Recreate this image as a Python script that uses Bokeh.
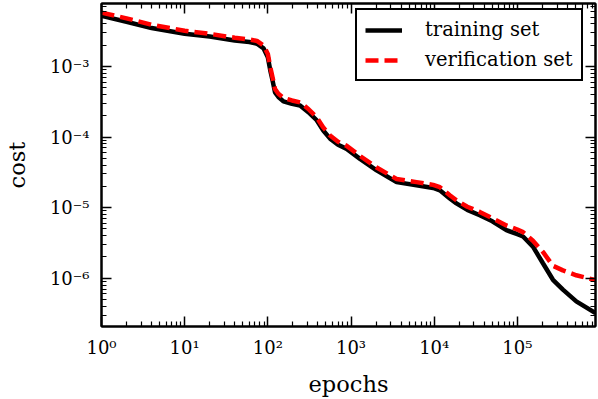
from bokeh.plotting import figure
from bokeh.models import LogAxis, FixedTicker, Range1d, Legend, LegendItem
from bokeh.embed import file_html
from bokeh.resources import INLINE

epochs = [1, 2, 4, 10, 20, 40, 60, 74, 89, 100, 107, 114, 122, 134, 154, 195, 244, 307,
          387, 464, 560, 698, 887, 1282, 2033, 3530, 6140, 9720, 11700, 15400, 18500,
          25000, 35300, 50000, 73800, 100000, 117000, 154000, 203000, 268000, 353000,
          511000, 870000]
training = [5.2e-3, 4.3e-3, 3.5e-3, 2.9e-3, 2.65e-3, 2.33e-3, 2.22e-3, 2.1e-3, 1.8e-3,
            1.35e-3, 8.8e-4, 6.3e-4, 4.3e-4, 3.7e-4, 3.2e-4, 2.95e-4, 2.8e-4, 2.25e-4,
            1.73e-4, 1.24e-4, 9.5e-5, 7.8e-5, 6.8e-5, 4.9e-5, 3.38e-5, 2.3e-5, 2.08e-5,
            1.9e-5, 1.76e-5, 1.35e-5, 1.15e-5, 9.3e-6, 7.8e-6, 6.4e-6, 4.8e-6, 4.2e-6,
            3.9e-6, 2.8e-6, 1.63e-6, 9.5e-7, 6.9e-7, 4.7e-7, 3.2e-7]
verification = [5.8e-3, 4.8e-3, 3.9e-3, 3.2e-3, 2.9e-3, 2.55e-3, 2.42e-3, 2.3e-3, 1.98e-3,
                1.5e-3, 9.8e-4, 7.0e-4, 4.8e-4, 4.1e-4, 3.6e-4, 3.3e-4, 3.1e-4, 2.5e-4,
                1.9e-4, 1.37e-4, 1.05e-4, 8.6e-5, 7.5e-5, 5.4e-5, 3.7e-5, 2.55e-5, 2.3e-5,
                2.1e-5, 1.95e-5, 1.5e-5, 1.27e-5, 1.03e-5, 8.7e-6, 7.1e-6, 5.6e-6, 4.9e-6,
                4.5e-6, 3.4e-6, 2.36e-6, 1.5e-6, 1.29e-6, 1.1e-6, 9.4e-7]

x_major = [1, 10, 100, 1000, 10000, 100000]
x_labels = ["10⁰", "10¹", "10²", "10³", "10⁴", "10⁵"]
y_major = [1e-6, 1e-5, 1e-4, 1e-3]
y_labels = ["10⁻⁶", "10⁻⁵", "10⁻⁴", "10⁻³"]

FONT = "DejaVu Serif"

x_minor = [m * d for d in [1, 10, 100, 1000, 10000, 100000] for m in range(2, 10)]
y_minor = [m * d for d in [1e-7, 1e-6, 1e-5, 1e-4, 1e-3] for m in range(2, 10)]

p = figure(width=598, height=399, x_axis_type="log", y_axis_type="log",
           x_range=Range1d(1, 8.7e5), y_range=Range1d(2.07e-7, 7.8e-3),
           output_backend="svg", toolbar_location=None,
           min_border_left=101, min_border_right=3, min_border_top=3, min_border_bottom=72)
p.grid.visible = False
p.outline_line_color = "black"
p.outline_line_width = 2
p.outline_line_alpha = 1
p.background_fill_color = "white"
p.border_fill_color = "white"

r1 = p.line(epochs, training, line_color="black", line_width=4.5)
r2 = p.line(epochs, verification, line_color="red", line_width=4.5, line_dash="13 6")

def style(ax, ticks, minor, labels=None, show=True):
    ax.ticker = FixedTicker(ticks=ticks, minor_ticks=minor)
    ax.axis_line_color = "black"
    ax.axis_line_width = 2
    ax.major_tick_in = 10
    ax.major_tick_out = 0
    ax.minor_tick_in = 5
    ax.minor_tick_out = 0
    ax.major_tick_line_width = 1.5
    ax.minor_tick_line_width = 1.2
    ax.major_label_text_font = FONT
    ax.axis_label_text_font = FONT
    ax.axis_label_text_font_style = "normal"
    ax.axis_label_text_color = "black"
    ax.major_label_text_color = "black"
    if show:
        ax.major_label_overrides = {t: l for t, l in zip(ticks, labels)}
        ax.major_label_text_font_size = "18px"
        ax.axis_label_text_font_size = "22.5px"
    else:
        ax.major_label_overrides = {t: "" for t in ticks}
        ax.major_label_text_font_size = "0px"
        ax.major_label_standoff = 0

xa = p.xaxis[0]
style(xa, x_major, x_minor, x_labels)
xa.axis_label = "epochs"
xa.major_label_standoff = 10
xa.axis_label_standoff = 10

ya = p.yaxis[0]
style(ya, y_major, y_minor, y_labels)
ya.axis_label = "cost"
ya.major_label_standoff = 12
ya.axis_label_standoff = 17

top = LogAxis()
style(top, x_major, x_minor, show=False)
p.add_layout(top, "above")
right = LogAxis()
style(right, y_major, y_minor, show=False)
p.add_layout(right, "right")

legend = Legend(items=[LegendItem(label="training set", renderers=[r1]),
                       LegendItem(label="verification set", renderers=[r2])],
                location=(254, 245))
legend.border_line_color = "black"
legend.border_line_width = 2
legend.border_line_alpha = 1
legend.label_text_font = FONT
legend.label_text_font_size = "19.5px"
legend.label_text_color = "black"
legend.glyph_width = 37
legend.glyph_height = 20
legend.label_standoff = 23
legend.padding = 8
legend.spacing = 7
legend.margin = 0
legend.background_fill_alpha = 1
p.add_layout(legend)

open("out.html", "w").write(file_html(p, INLINE))
